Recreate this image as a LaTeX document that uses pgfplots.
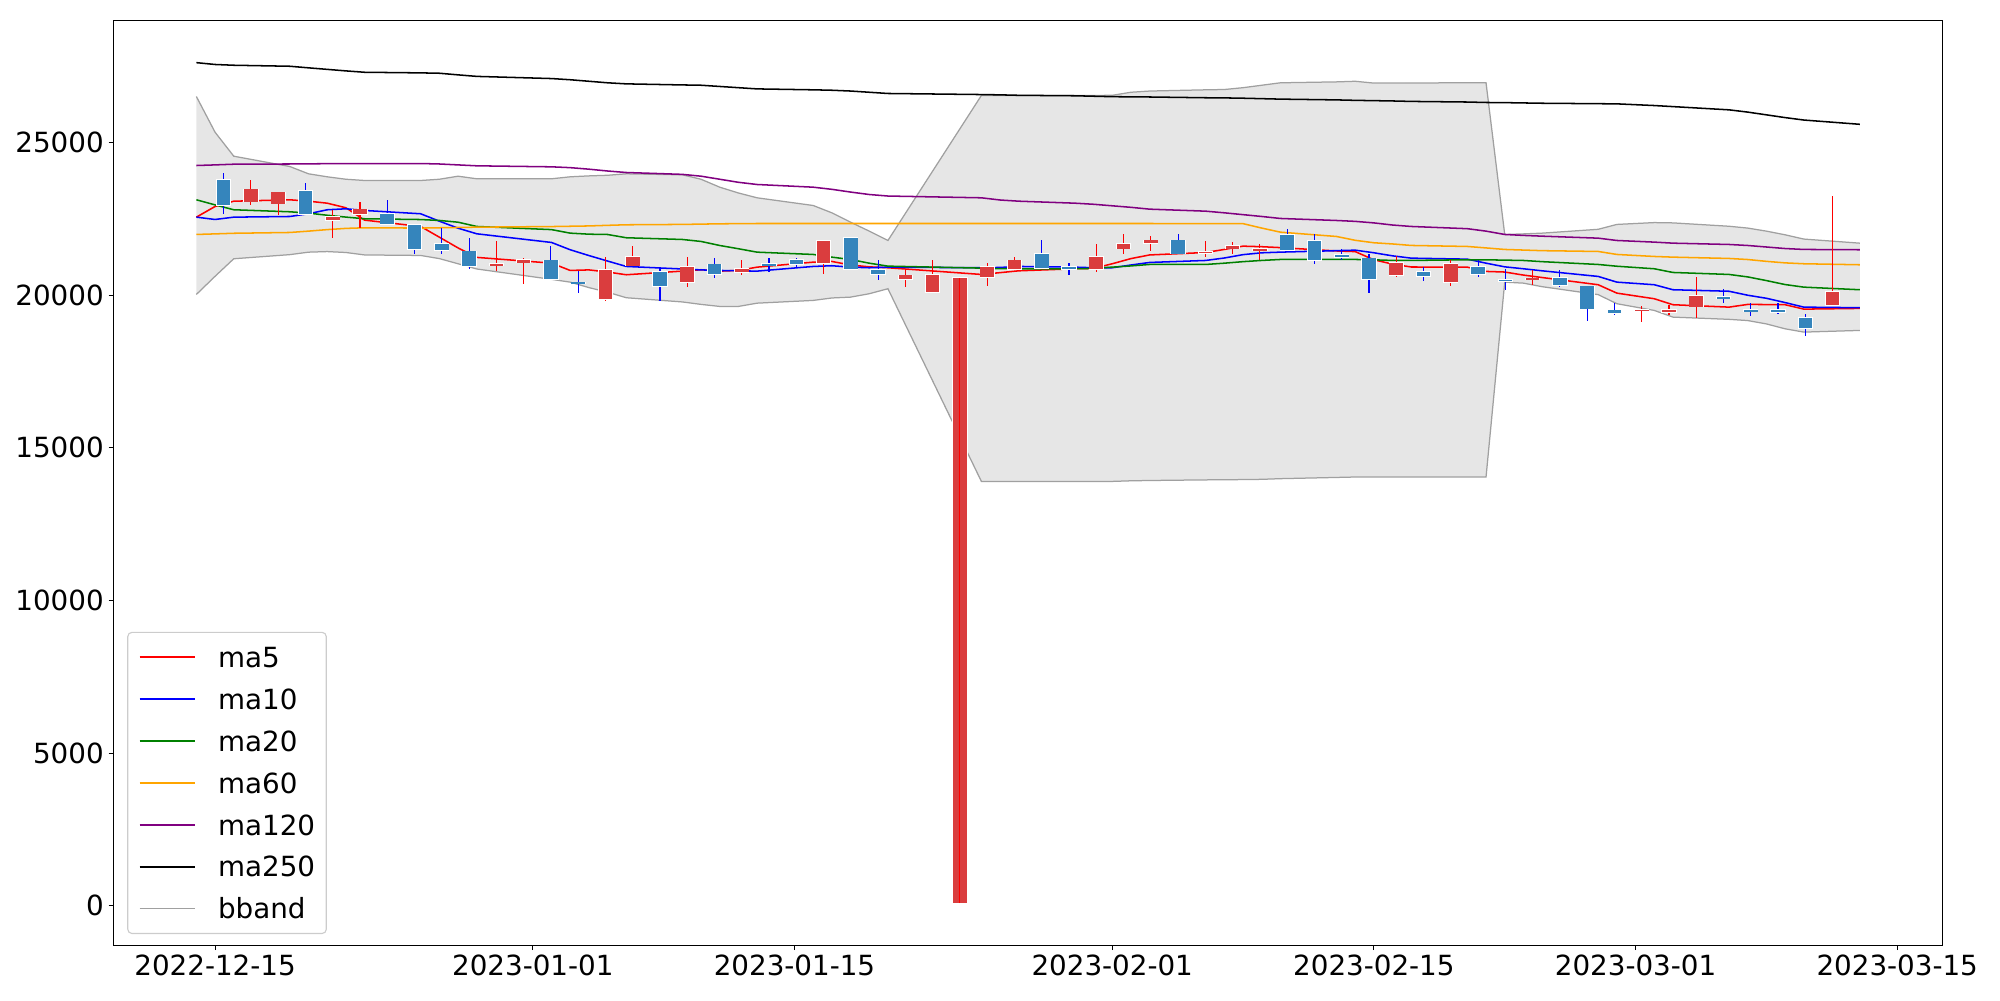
\documentclass[border=0pt]{standalone}
\usepackage{fontspec}
\setmainfont{DejaVu Sans}
\usepackage{pgfplots}
\pgfplotsset{compat=1.18}
\usepgfplotslibrary{fillbetween}
\usepackage{pgfplotstable}

\definecolor{cred}{RGB}{255,0,0}
\definecolor{cblue}{RGB}{0,0,255}
\definecolor{cgreen}{RGB}{0,128,0}
\definecolor{corange}{RGB}{255,165,0}
\definecolor{cpurple}{RGB}{128,0,128}
\definecolor{bodyred}{RGB}{218,61,62}
\definecolor{bodyblue}{RGB}{53,133,188}
\definecolor{bbedge}{RGB}{160,160,160}
\definecolor{bbfill}{RGB}{128,128,128}
\definecolor{legframe}{RGB}{204,204,204}

\pgfplotstableread{
d ma5 ma10 ma20 ma60 ma120 ma250 up lo
-1 22558 22558 23127 21991 24250 27620 26510 20026
0 22908 22482 22960 22010 24270 27560 25340 20620
1 23081 22558 22800 22030 24293 27535 24555 21195
4 23127 22580 22734 22056 24300 27502 24217 21330
5 23081 22669 22690 22100 24305 27450 23978 21411
6 23016 22800 22620 22150 24310 27400 23880 21430
7 22865 22832 22560 22190 24312 27350 23800 21400
8 22460 22777 22505 22210 24315 27305 23759 21320
11 22253 22669 22480 22200 24315 27285 23759 21303
12 21902 22426 22450 22210 24300 27273 23800 21200
13 21550 22197 22393 22220 24270 27220 23900 21031
14 21240 22013 22253 22230 24240 27170 23815 20860
18 21051 21729 22150 22250 24207 27099 23815 20520
19 20812 21490 22034 22260 24180 27060 23880 20429
20 20830 21300 22000 22270 24130 27010 23910 20250
21 20760 21120 21990 22290 24070 26960 23930 20100
22 20671 20943 21883 22308 24021 26925 23978 19918
25 20790 20860 21827 22320 23960 26890 23945 19780
26 20835 20830 21762 22330 23900 26880 23800 19700
27 20790 20812 21630 22340 23800 26840 23540 19633
28 20812 20800 21523 22345 23700 26800 23350 19633
29 20920 20790 21411 22350 23628 26760 23192 19740
32 21084 20943 21336 22350 23540 26730 22940 19830
33 21107 20966 21248 22350 23470 26716 22700 19910
34 20990 20920 21170 22350 23380 26690 22393 19938
35 20930 20900 21050 22350 23300 26650 22100 20049
36 20900 20920 20953 22350 23250 26610 21794 20213
41 20681 20900 20888 22350 23192 26575 26545 13900
42 20740 20910 20870 22350 23120 26565 26545 13900
43 20800 20943 20867 22350 23081 26550 26545 13900
46 20867 20920 20867 22350 23016 26535 26545 13900
47 20880 20900 20880 22350 22980 26520 26545 13900
48 21031 20900 20920 22350 22930 26505 26550 13900
49 21200 20990 20960 22350 22880 26500 26650 13920
50 21320 21074 21008 22350 22820 26495 26690 13930
53 21400 21139 21008 22345 22754 26470 26730 13950
54 21500 21220 21050 22345 22700 26465 26740 13955
55 21608 21330 21100 22345 22640 26455 26800 13960
56 21590 21390 21140 22200 22580 26440 26880 13968
57 21560 21412 21172 22066 22515 26425 26960 13990
60 21450 21460 21172 21925 22449 26400 26990 14030
61 21430 21477 21172 21800 22420 26385 27010 14044
62 21160 21391 21160 21719 22370 26375 26950 14044
63 21020 21290 21140 21680 22300 26365 26950 14044
64 20925 21215 21140 21631 22253 26350 26955 14044
67 20920 21182 21162 21598 22180 26330 26960 14044
68 20780 21050 21160 21550 22100 26315 26960 14044
69 20760 20930 21150 21500 21991 26310 21990 20429
70 20660 20867 21139 21480 21960 26300 22010 20396
71 20580 20800 21100 21460 21935 26290 22034 20280
74 20344 20616 21008 21434 21870 26275 22160 20020
75 20069 20429 20950 21336 21794 26270 22320 19722
77 19885 20344 20867 21270 21740 26215 22380 19502
78 19689 20180 20746 21248 21706 26180 22370 19283
81 19610 20130 20681 21205 21663 26074 22260 19210
82 19699 20000 20600 21170 21630 26000 22200 19170
83 19695 19900 20480 21110 21580 25910 22100 19060
84 19689 19760 20350 21060 21530 25820 21980 18900
85 19545 19610 20265 21031 21500 25740 21840 18792
88 19568 19591 20180 20998 21490 25600 21706 18847
}\lines

% up candles (red): x open high low close
\pgfplotstableread{
x o h l c
1.918 23070 23780 22940 23470
3.377 23000 23370 22640 23370
6.295 22450 22800 21880 22560
7.754 22660 23050 22210 22810
15.049 20970 21790 20810 21030
16.508 21070 21230 20380 21160
20.885 19870 21250 19810 20820
22.344 20970 21620 20960 21250
25.262 20420 21250 20270 20920
28.180 20760 21160 20660 20870
32.557 21050 21770 20700 21770
36.934 20520 20850 20270 20650
38.393 20090 21140 20090 20660
39.852 83 20570 83 20570
41.311 20590 21070 20310 20920
42.770 20850 21250 20840 21140
47.148 20850 21690 20760 21250
48.607 21530 21990 21360 21690
50.066 21700 21930 21440 21800
52.984 21380 21790 21250 21430
54.443 21530 21730 21340 21620
55.902 21470 21690 21160 21510
63.197 20670 21300 20590 21050
66.115 20430 21140 20310 21020
70.492 20520 20840 20350 20550
76.328 19500 19660 19130 19520
77.787 19440 19670 19350 19530
79.246 19630 20590 19260 19970
86.541 19670 23240 19660 20100
}\upc

% down candles (blue): x open high low close
\pgfplotstableread{
x o h l c
0.459 23790 24010 22670 22960
4.836 23410 23680 22640 22650
9.213 22670 23130 22310 22320
10.672 22300 22300 21360 21520
12.131 21670 22190 21360 21470
13.590 21440 21880 20870 20950
17.967 21140 21610 20520 20530
19.426 20420 20790 20080 20400
23.803 20760 20900 19810 20290
26.721 21010 21230 20570 20680
29.639 21030 21230 20770 20970
31.098 21160 21230 20920 21030
34.016 21870 21870 20840 20850
35.475 20840 21140 20510 20680
44.230 21350 21820 20870 20880
45.689 20920 21070 20670 20850
51.525 21800 21990 21360 21360
57.361 21980 22180 21460 21470
58.820 21770 22010 21030 21140
60.279 21310 21520 21160 21240
61.738 21210 21360 20070 20520
64.656 20760 20920 20480 20620
67.574 20920 21140 20590 20680
69.033 20500 20870 20180 20470
71.951 20580 20840 20270 20320
73.410 20290 20290 19150 19560
74.869 19500 19740 19340 19420
80.705 19940 20200 19740 19900
82.164 19510 19760 19330 19470
83.623 19510 19740 19370 19440
85.082 19250 19390 18680 18920
}\dnc

\begin{document}
\begin{tikzpicture}
\begin{axis}[
  scale only axis, width=1316.9pt, height=665.8pt,
  xmin=-5.436, xmax=92.43, ymin=-1294, ymax=29004,
  axis line style={line width=0.8pt},
  tick pos=left, tick align=outside, major tick length=3.5pt,
  every tick/.style={black, line width=0.8pt},
  xtick={0,17,31,48,62,76,90},
  xticklabels={2022-12-15,2023-01-01,2023-01-15,2023-02-01,2023-02-15,2023-03-01,2023-03-15},
  ytick={0,5000,10000,15000,20000,25000},
  scaled y ticks=false,
  /pgf/number format/assume math mode=true,
  /pgf/number format/1000 sep={},
  tick label style={font=\fontsize{20}{24}\selectfont},
  legend image code/.code={\draw[#1] (0pt,0pt) -- (40pt,0pt);},
  legend cell align=left,
  legend style={at={(0,0)}, anchor=south west, xshift=9.9pt, yshift=8pt,
    font=\fontsize{20}{24}\selectfont, draw=legframe, line width=0.8pt,
    rounded corners=3pt, fill=white, inner xsep=8pt, inner ysep=10.5pt,
    nodes={inner sep=0pt, text height=14.6pt, text depth=0pt},
    row sep=15.6pt, column sep=16pt},
]
\coordinate (bl) at (rel axis cs:0,0);
\coordinate (tr) at (rel axis cs:1,1);

% Bollinger band
\addplot[name path=bbup, draw=bbedge, line width=0.9pt, forget plot] table[x=d, y=up] {\lines};
\addplot[name path=bblo, draw=bbedge, line width=0.9pt, forget plot] table[x=d, y=lo] {\lines};
\addplot[fill=bbfill, fill opacity=0.2, draw=none, forget plot] fill between[of=bbup and bblo];

% moving averages
\addplot[cred, line width=1.1pt, forget plot] table[x=d, y=ma5] {\lines};
\addplot[cblue, line width=1.1pt, forget plot] table[x=d, y=ma10] {\lines};
\addplot[cgreen, line width=1.1pt, forget plot] table[x=d, y=ma20] {\lines};
\addplot[corange, line width=1.1pt, forget plot] table[x=d, y=ma60] {\lines};
\addplot[cpurple, line width=1.1pt, forget plot] table[x=d, y=ma120] {\lines};
\addplot[black, line width=1.1pt, forget plot] table[x=d, y=ma250] {\lines};

% wicks
\addplot[draw=none, mark=none, forget plot,
  error bars/.cd, y dir=both, y explicit, error mark=none,
  error bar style={draw=cblue, line width=0.8pt}]
  table[x=x, y expr=(\thisrow{h}+\thisrow{l})/2, y error expr=(\thisrow{h}-\thisrow{l})/2] {\dnc};
\addplot[draw=none, mark=none, forget plot,
  error bars/.cd, y dir=both, y explicit, error mark=none,
  error bar style={draw=cred, line width=0.8pt}]
  table[x=x, y expr=(\thisrow{h}+\thisrow{l})/2, y error expr=(\thisrow{h}-\thisrow{l})/2] {\upc};

% bodies: white edge then fill
\addplot[draw=none, mark=none, forget plot,
  error bars/.cd, y dir=both, y explicit, error mark=none,
  error bar style={draw=white, line width=11pt}]
  table[x=x, y expr=(\thisrow{o}+\thisrow{c})/2, y error expr=abs(\thisrow{c}-\thisrow{o})/2+25] {\dnc};
\addplot[draw=none, mark=none, forget plot,
  error bars/.cd, y dir=both, y explicit, error mark=none,
  error bar style={draw=white, line width=11pt}]
  table[x=x, y expr=(\thisrow{o}+\thisrow{c})/2, y error expr=abs(\thisrow{c}-\thisrow{o})/2+25] {\upc};
\addplot[draw=none, mark=none, forget plot,
  error bars/.cd, y dir=both, y explicit, error mark=none,
  error bar style={draw=bodyblue, line width=9.8pt}]
  table[x=x, y expr=(\thisrow{o}+\thisrow{c})/2, y error expr=abs(\thisrow{c}-\thisrow{o})/2] {\dnc};
\addplot[draw=none, mark=none, forget plot,
  error bars/.cd, y dir=both, y explicit, error mark=none,
  error bar style={draw=bodyred, line width=9.8pt}]
  table[x=x, y expr=(\thisrow{o}+\thisrow{c})/2, y error expr=abs(\thisrow{c}-\thisrow{o})/2] {\upc};
% wick of the long candle shows through its body
\addplot[cred, line width=0.8pt, forget plot] coordinates {(39.852,83) (39.852,20570)};

% legend
\addlegendimage{cred, line width=1pt}\addlegendentry{ma5}
\addlegendimage{cblue, line width=1pt}\addlegendentry{ma10}
\addlegendimage{cgreen, line width=1pt}\addlegendentry{ma20}
\addlegendimage{corange, line width=1pt}\addlegendentry{ma60}
\addlegendimage{cpurple, line width=1pt}\addlegendentry{ma120}
\addlegendimage{black, line width=1pt}\addlegendentry{ma250}
\addlegendimage{bbedge, line width=1pt}\addlegendentry{bband}
\end{axis}
\pgfresetboundingbox
\path[use as bounding box] ([xshift=-81.7pt,yshift=-39.5pt]bl) rectangle ([xshift=41.3pt,yshift=14.7pt]tr);
\end{tikzpicture}
\end{document}
